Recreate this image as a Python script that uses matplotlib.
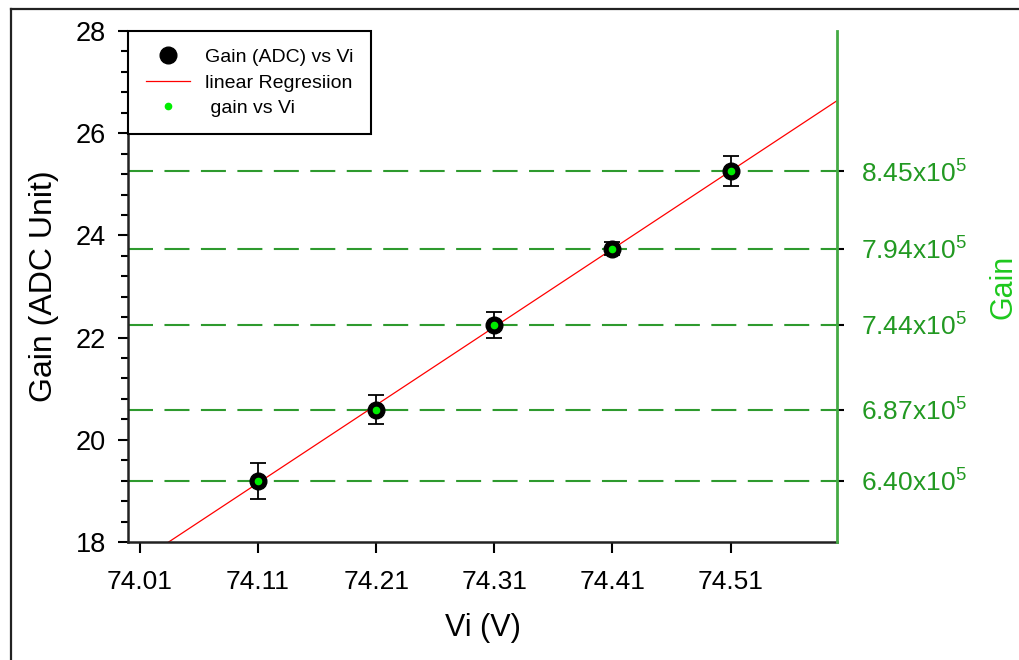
import numpy as np
import matplotlib
matplotlib.use("Agg")
import matplotlib.pyplot as plt
from matplotlib.lines import Line2D
from matplotlib.ticker import MultipleLocator

plt.rcParams["font.family"] = ["Liberation Sans", "DejaVu Sans"]
plt.rcParams["mathtext.fontset"] = "custom"
plt.rcParams["mathtext.rm"] = "Liberation Sans"
plt.rcParams["mathtext.it"] = "Liberation Sans"

# bias voltage (V), measured gain in ADC units with errors, converted gain (x1e5)
vi       = [74.11, 74.21, 74.31, 74.41, 74.51]
gain_adc = [19.20, 20.59, 22.25, 23.74, 25.26]
gain_err = [0.35, 0.28, 0.25, 0.13, 0.29]
gain_e5  = [6.40, 6.87, 7.44, 7.94, 8.45]
xticks   = [74.01, 74.11, 74.21, 74.31, 74.41, 74.51]

GREEN_LINE = "#2e9a2e"
GREEN_DOT  = "#00ee00"

fig = plt.figure(figsize=(10.2, 6.6), dpi=100)
ax = fig.add_axes([0.1255, 0.1788, 0.6951, 0.7742])

# horizontal guides at each measured gain
for y in gain_adc:
    ax.axhline(y, color=GREEN_LINE, lw=1.5, ls=(0, (12, 5.5)), zorder=1)

# linear regression over the full axis range
slope, icpt = np.polyfit(vi, gain_adc, 1)
xfit = np.array([74.0, 74.6])
ax.plot(xfit, slope * xfit + icpt, color="red", lw=0.9, zorder=2,
        label="linear Regresiion")

ax.errorbar(vi, gain_adc, yerr=gain_err, fmt="o", color="black", ms=12,
            ecolor="black", elinewidth=1.3, capsize=6, capthick=1.3, zorder=3,
            label="Gain (ADC) vs Vi")
ax.plot(vi, gain_adc, "o", color=GREEN_DOT, ms=4.5, ls="none", zorder=4,
        label=" gain vs Vi")

ax.set_xlim(74.0, 74.6)
ax.set_ylim(18, 28)
ax.set_xticks(xticks)
ax.set_xticklabels([f"{v:.2f}" for v in xticks])
ax.yaxis.set_major_locator(MultipleLocator(2))
ax.yaxis.set_minor_locator(MultipleLocator(0.4))
ax.tick_params(axis="x", direction="out", length=8, width=1.5, pad=12, labelsize=19)
ax.tick_params(axis="y", which="major", direction="out", length=7, width=1.5,
               pad=9, labelsize=19.5)
ax.tick_params(axis="y", which="minor", direction="out", length=5, width=1.5)
ax.set_xlabel("Vi (V)", fontsize=22, labelpad=14)
ax.set_ylabel("Gain (ADC Unit)", fontsize=23, labelpad=12)
ax.spines["top"].set_visible(False)
ax.spines["right"].set_visible(False)
for s in ("left", "bottom"):
    ax.spines[s].set_linewidth(1.8)
    ax.spines[s].set_color("#222222")

handles, labels = ax.get_legend_handles_labels()
order = [labels.index(l) for l in ("Gain (ADC) vs Vi", "linear Regresiion", " gain vs Vi")]
hmark = Line2D([], [], marker="o", color="black", ms=12, ls="none")
leg = ax.legend([hmark, handles[order[1]], handles[order[2]]],
                [labels[i] for i in order],
                loc="upper left", bbox_to_anchor=(0, 1), borderaxespad=0,
                fontsize=14, fancybox=False, edgecolor="black",
                framealpha=1, handlelength=2.3, handletextpad=0.75,
                borderpad=0.9, labelspacing=0.4)
leg.get_frame().set_linewidth(1.5)

# right axis: gain values at the same heights
ax2 = ax.twinx()
ax2.set_ylim(ax.get_ylim())
ax2.set_yticks(gain_adc)
ax2.set_yticklabels([f"{g:.2f}x10$^{{5}}$" for g in gain_e5], color="#229922")
ax2.tick_params(axis="y", direction="out", length=5, width=1.5, pad=12,
                labelsize=19, color="black")
ax2.set_ylabel("Gain", fontsize=22, color="#1ec81e", labelpad=16)
for s in ("top", "left", "bottom"):
    ax2.spines[s].set_visible(False)
ax2.spines["right"].set_color("#44aa44")
ax2.spines["right"].set_linewidth(2)

# outer frame
fig.add_artist(Line2D([11 / 1020, 11 / 1020], [0, 1 - 9 / 660],
                      transform=fig.transFigure, color="#222222", lw=1.6))
fig.add_artist(Line2D([11 / 1020, 1], [1 - 9 / 660, 1 - 9 / 660],
                      transform=fig.transFigure, color="#222222", lw=1.6))

fig.savefig("out.png", dpi=100)
